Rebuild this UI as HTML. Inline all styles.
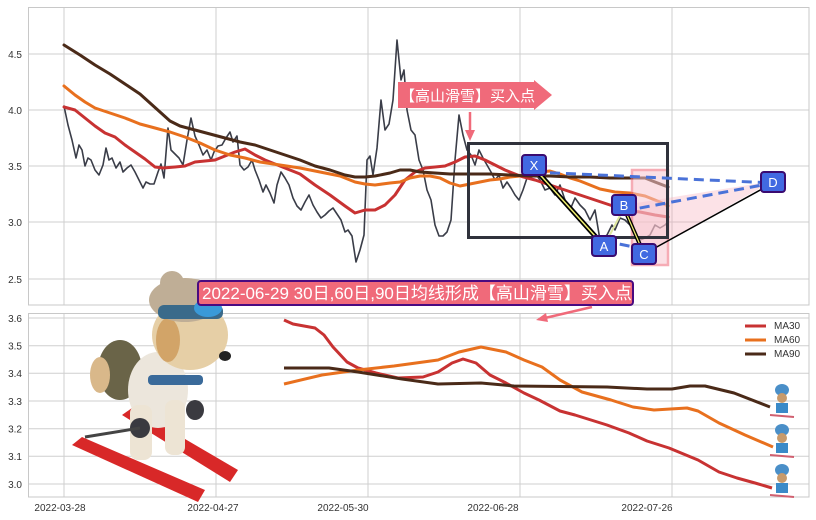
<!DOCTYPE html>
<html><head><meta charset="utf-8"><style>
html,body{margin:0;padding:0;background:#fff;width:816px;height:520px;overflow:hidden}
svg{display:block;font-family:"Liberation Sans","Noto Sans CJK SC",sans-serif}
</style></head><body>
<svg width="816" height="520" viewBox="0 0 816 520" xmlns="http://www.w3.org/2000/svg">
<rect width="816" height="520" fill="#fff"/>
<!-- top panel -->
<g stroke="#cfcfcf" stroke-width="1">
<line x1="28" y1="54" x2="809" y2="54"/><line x1="28" y1="110" x2="809" y2="110"/><line x1="28" y1="166" x2="809" y2="166"/><line x1="28" y1="222" x2="809" y2="222"/><line x1="28" y1="279" x2="809" y2="279"/>
<line x1="64" y1="7" x2="64" y2="305"/><line x1="216" y1="7" x2="216" y2="305"/><line x1="368" y1="7" x2="368" y2="305"/><line x1="520" y1="7" x2="520" y2="305"/><line x1="672" y1="7" x2="672" y2="305"/>
</g>
<rect x="28.5" y="7.5" width="780.5" height="297.5" fill="none" stroke="#c8c8c8"/>
<g font-size="10" fill="#333" text-anchor="end">
<text x="22" y="58">4.5</text><text x="22" y="114">4.0</text><text x="22" y="170">3.5</text><text x="22" y="226">3.0</text><text x="22" y="283">2.5</text>
</g>
<g fill="none" stroke-linejoin="round" stroke-linecap="round">
<polyline stroke="#3a3d48" stroke-width="1.6" points="64,106 68,125 72,140 76,158 79,145 82,150 85,166 88,158 91,160 95,170 99,175 103,165 106,148 109,160 112,158 116,168 120,162 123,172 127,168 131,165 135,172 139,180 143,188 146,182 150,184 154,184 158,172 161,164 164,178 168,128 171,150 175,154 179,158 183,165 187,140 191,118 195,136 199,145 203,155 207,150 211,160 214,152 218,146 222,145 226,138 230,132 233,142 237,136 240,165 244,170 248,167 252,160 255,170 259,180 263,192 266,185 270,193 274,203 277,185 281,172 285,178 289,185 293,198 297,206 301,210 305,202 309,195 313,205 317,212 321,218 325,215 329,211 333,208 337,214 341,220 345,232 348,230 352,236 356,262 360,250 364,235 367,160 370,156 373,175 377,148 381,100 385,130 389,124 393,100 397,40 401,80 404,70 407,110 411,130 415,135 419,160 423,170 427,190 431,200 435,225 439,236 443,236 447,232 451,220 455,160 459,115 463,135 467,150 471,155 475,165 479,150 483,158 487,165 491,172 495,180 499,175 503,188 507,182 511,188 515,195 519,200 523,190 527,178 533,170 540,180 545,190 550,188 555,195 560,185 565,200 570,210 575,198 580,205 585,210 590,220 595,210 600,240 603,238 607,235 612,225 615,230 620,218 625,220 630,225 635,235 640,240 645,238 650,235 655,225 660,228 665,225 668,222"/>
<polyline stroke="#c83232" stroke-width="3" points="64,107 75,110 85,118 95,126 105,133 115,137 125,145 135,152 145,159 155,167 163,168 175,167 185,166 195,162 205,161 215,160 225,156 235,152 245,149 255,155 265,160 280,166 300,174 315,185 330,195 345,206 355,213 365,210 375,210 385,205 395,195 405,180 415,172 425,168 435,167 445,166 455,162 465,157 475,156 485,160 495,165 505,170 520,176 535,180 550,185 565,190 580,195 595,200 610,205 625,210 640,212 655,215 668,217"/>
<polyline stroke="#e8701e" stroke-width="3" points="64,86 75,95 85,102 95,108 110,113 125,118 140,124 155,128 170,132 185,137 200,143 215,150 230,155 245,158 260,162 280,165 300,168 320,172 340,176 355,182 365,184 375,185 390,183 400,182 410,178 420,176 430,176 440,178 450,183 460,186 470,184 480,182 490,180 500,179 510,177 520,176 530,174 540,172 550,171 560,174 570,178 580,181 590,185 600,189 615,192 630,193 645,196 660,202 668,206"/>
<polyline stroke="#4a2a18" stroke-width="3" points="64,45 80,55 95,65 110,74 125,84 140,94 150,103 160,112 170,121 180,126 195,130 210,134 225,138 240,142 255,145 270,150 285,155 300,160 315,166 330,170 345,175 355,177 365,177 375,176 390,173 400,170 410,170 420,172 435,173 450,174 470,174 490,174 510,175 530,176 550,176 570,177 590,177 610,178 630,178 645,178 655,182 668,187"/>
</g>
<!-- pattern annotations -->
<polygon points="624,205 644,254 773,181" fill="#f4a0b0" opacity="0.3"/>
<rect x="632" y="170" width="36" height="95" fill="#f8c8d0" opacity="0.55" stroke="#f06a7a" stroke-width="2.5"/>
<rect x="468.5" y="143.5" width="199" height="94" fill="none" stroke="#30323c" stroke-width="3"/>
<g fill="none">
<line x1="534" y1="168" x2="604" y2="246" stroke="#000" stroke-width="5"/>
<line x1="534" y1="168" x2="604" y2="246" stroke="#f0f070" stroke-width="1.5"/>
<line x1="604" y1="246" x2="624" y2="208" stroke="#dfe8a0" stroke-width="2"/>
<line x1="624" y1="208" x2="644" y2="254" stroke="#000" stroke-width="4"/>
<line x1="624" y1="208" x2="644" y2="254" stroke="#f0f070" stroke-width="1.2"/>
<line x1="644" y1="254" x2="773" y2="183" stroke="#000" stroke-width="1.5"/>
<line x1="534" y1="172" x2="773" y2="183" stroke="#4a72d8" stroke-width="3" stroke-dasharray="10,6"/>
<line x1="624" y1="211" x2="773" y2="183" stroke="#4a72d8" stroke-width="3" stroke-dasharray="10,6"/>
<line x1="604" y1="241" x2="644" y2="249" stroke="#4a72d8" stroke-width="3" stroke-dasharray="10,6"/>
</g>
<g font-size="13" fill="#fff" text-anchor="middle" stroke-width="2">
<rect x="522" y="155" width="24" height="20" rx="3" fill="#4169e1" stroke="#3a0a70"/><text x="534" y="170">X</text>
<rect x="592" y="236" width="24" height="20" rx="3" fill="#4169e1" stroke="#3a0a70"/><text x="604" y="251">A</text>
<rect x="612" y="195" width="24" height="20" rx="3" fill="#4169e1" stroke="#3a0a70"/><text x="624" y="210">B</text>
<rect x="632" y="244" width="24" height="20" rx="3" fill="#4169e1" stroke="#3a0a70"/><text x="644" y="259">C</text>
<rect x="761" y="172" width="24" height="20" rx="3" fill="#4169e1" stroke="#3a0a70"/><text x="773" y="187">D</text>
</g>
<!-- top arrow label -->
<polygon points="398,82 534,82 534,80 552,95 534,110 534,108 398,108" fill="#f06a7a"/>
<text x="400" y="101" font-size="15" fill="#fff">【高山滑雪】买入点</text>
<line x1="470" y1="112" x2="470" y2="132" stroke="#f06a7a" stroke-width="2.5"/>
<polygon points="465,130 475,130 470,141" fill="#f06a7a"/>
<!-- bottom panel -->
<g stroke="#cfcfcf" stroke-width="1">
<line x1="28" y1="318" x2="809" y2="318"/><line x1="28" y1="345.7" x2="809" y2="345.7"/><line x1="28" y1="373.3" x2="809" y2="373.3"/><line x1="28" y1="401" x2="809" y2="401"/><line x1="28" y1="428.7" x2="809" y2="428.7"/><line x1="28" y1="456.3" x2="809" y2="456.3"/><line x1="28" y1="484" x2="809" y2="484"/>
<line x1="64" y1="313" x2="64" y2="497"/><line x1="216" y1="313" x2="216" y2="497"/><line x1="368" y1="313" x2="368" y2="497"/><line x1="520" y1="313" x2="520" y2="497"/><line x1="672" y1="313" x2="672" y2="497"/>
</g>
<rect x="28.5" y="313.5" width="780.5" height="183.5" fill="none" stroke="#c8c8c8"/>
<g font-size="10" fill="#333" text-anchor="end">
<text x="22" y="322">3.6</text><text x="22" y="349.5">3.5</text><text x="22" y="377">3.4</text><text x="22" y="405">3.3</text><text x="22" y="432.5">3.2</text><text x="22" y="460">3.1</text><text x="22" y="488">3.0</text>
</g>
<g font-size="10" fill="#333" text-anchor="middle">
<text x="60" y="511">2022-03-28</text><text x="213" y="511">2022-04-27</text><text x="343" y="511">2022-05-30</text><text x="493" y="511">2022-06-28</text><text x="647" y="511">2022-07-26</text>
</g>
<g fill="none" stroke-width="3" stroke-linejoin="round">
<polyline stroke="#c83232" points="284,320 293,324 315,328 324,335 333,347 347,362 358,368 376,373 398,378 423,377 438,372 452,363 463,359 476,363 490,375 506,383 524,393 539,400 560,411 575,415 607,425 629,433 647,441 669,448 698,460 719,472 737,478 755,483 772,488"/>
<polyline stroke="#e8701e" points="284,384 322,375 358,370 394,366 438,360 459,352 481,347 506,352 524,360 542,367 560,380 582,392 611,400 633,407 654,410 687,408 698,411 719,423 745,435 773,447"/>
<polyline stroke="#4a2a18" points="284,368 329,368 358,372 402,379 438,384 481,383 514,386 607,387 647,389 672,389 690,386 705,386 734,393 770,407"/>
</g>
<g font-size="10" fill="#333">
<line x1="745" y1="326" x2="766" y2="326" stroke="#c83232" stroke-width="3"/><text x="774" y="329">MA30</text>
<line x1="745" y1="340" x2="766" y2="340" stroke="#e8701e" stroke-width="3"/><text x="774" y="343">MA60</text>
<line x1="745" y1="354" x2="766" y2="354" stroke="#4a2a18" stroke-width="3"/><text x="774" y="357">MA90</text>
</g>
<!-- small skier dogs -->
<g>
<g transform="translate(782,400)"><ellipse cx="0" cy="-10" rx="7" ry="6" fill="#4a8fc8"/><ellipse cx="0" cy="-2" rx="5" ry="5" fill="#c89a6a"/><rect x="-6" y="3" width="12" height="10" fill="#3a8ac8"/><line x1="-12" y1="15" x2="12" y2="17" stroke="#d06070" stroke-width="2"/></g>
<g transform="translate(782,440)"><ellipse cx="0" cy="-10" rx="7" ry="6" fill="#4a8fc8"/><ellipse cx="0" cy="-2" rx="5" ry="5" fill="#c89a6a"/><rect x="-6" y="3" width="12" height="10" fill="#3a8ac8"/><line x1="-12" y1="15" x2="12" y2="17" stroke="#d06070" stroke-width="2"/></g>
<g transform="translate(782,480)"><ellipse cx="0" cy="-10" rx="7" ry="6" fill="#4a8fc8"/><ellipse cx="0" cy="-2" rx="5" ry="5" fill="#c89a6a"/><rect x="-6" y="3" width="12" height="10" fill="#3a8ac8"/><line x1="-12" y1="15" x2="12" y2="17" stroke="#d06070" stroke-width="2"/></g>
</g>
<!-- big dog illustration (approx) -->
<g>
<polygon points="72,445 82,437 205,490 198,502" fill="#d82828"/>
<polygon points="122,415 132,408 238,470 230,482" fill="#d82828"/>
<ellipse cx="120" cy="370" rx="22" ry="30" fill="#6a6448"/>
<ellipse cx="100" cy="375" rx="10" ry="18" fill="#d9b88a"/>
<ellipse cx="158" cy="390" rx="30" ry="38" fill="#ece6dc"/>
<rect x="130" y="405" width="22" height="55" rx="8" fill="#ede4d4"/>
<rect x="165" y="400" width="20" height="55" rx="8" fill="#ede4d4"/>
<ellipse cx="190" cy="335" rx="38" ry="35" fill="#e6cfa6"/>
<ellipse cx="168" cy="340" rx="12" ry="22" fill="#d2a468"/>
<ellipse cx="225" cy="356" rx="6" ry="5" fill="#222"/>
<ellipse cx="185" cy="300" rx="36" ry="22" fill="#bfae96"/>
<circle cx="172" cy="283" r="12" fill="#bfae96"/>
<rect x="158" y="305" width="65" height="14" rx="6" fill="#3a6a8a"/>
<ellipse cx="208" cy="308" rx="14" ry="9" fill="#3a9ad8"/>
<rect x="148" y="375" width="55" height="10" rx="4" fill="#3a6a9a"/>
<ellipse cx="140" cy="428" rx="10" ry="10" fill="#3a3a40"/>
<line x1="85" y1="437" x2="140" y2="428" stroke="#444" stroke-width="3"/>
<ellipse cx="195" cy="410" rx="9" ry="10" fill="#3a3a40"/>
</g>
<!-- bottom label -->
<rect x="198" y="281" width="435" height="24" rx="3" fill="#f06a7a" stroke="#4a0a80" stroke-width="2"/>
<text x="202" y="299" font-size="17" fill="#fff">2022-06-29 30日,60日,90日均线形成【高山滑雪】买入点</text>
<line x1="592" y1="307" x2="545" y2="318" stroke="#f06a7a" stroke-width="2.5"/>
<polygon points="536,320 546,313 548,322" fill="#f06a7a"/>
</svg>
</body></html>
